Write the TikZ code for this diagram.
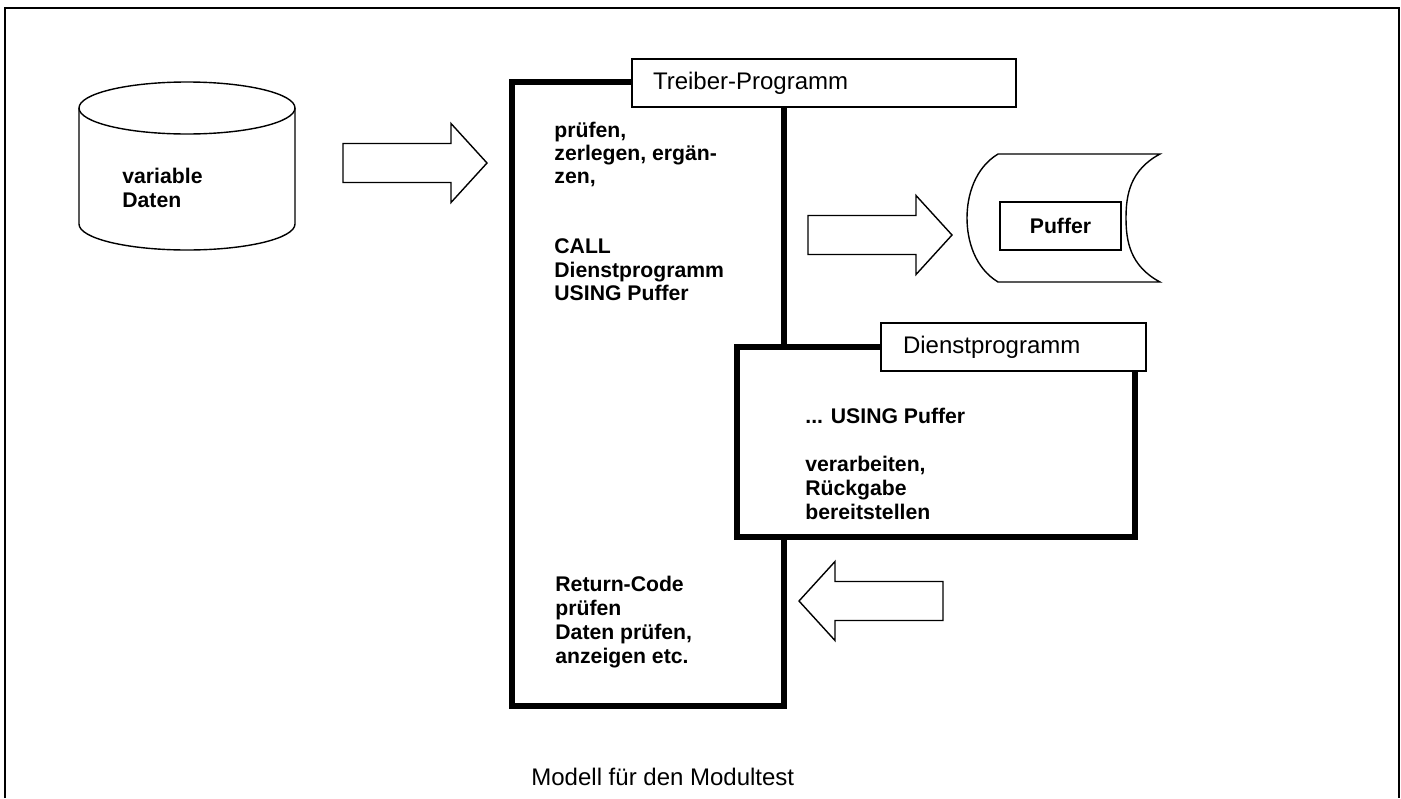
\documentclass[tikz,border=0pt]{standalone}
\usepackage{fontspec}
\setmainfont{Liberation Sans}
\begin{document}
\begin{tikzpicture}[x=0.5pt,y=-0.5pt]
\tikzstyle{outline}=[line width=0.7pt, line join=miter]
\tikzstyle{heavy}=[line width=2.6pt]
\tikzstyle{titlebox}=[draw, fill=white, line width=1pt, anchor=north west,
                      minimum height=24pt, inner xsep=10.5pt, inner ysep=0pt,
                      align=left, font=\fontsize{12}{14}\selectfont]
\tikzstyle{txt}=[anchor=north west, inner sep=0pt, align=left,
                 font=\fontsize{10.6}{12}\selectfont\bfseries]
\useasboundingbox (0,0) rectangle (1401,798);
\draw[line width=1pt] (5,798) -- (5,8) -- (1399,8) -- (1399,798);
\draw[outline] (79,108) -- (79,224) arc[start angle=180, end angle=0, x radius=108, y radius=26] -- (295,108);
\draw[outline] (187,108) ellipse[x radius=108, y radius=26];
\node[txt] (daten) at (122,167.5) {variable\\Daten};
\draw[heavy] (512,82) rectangle (784,706);
\node[titlebox, text width=171pt] (treibertitel) at (631,58) {Treiber-Programm};
\node[txt, font=\fontsize{10.6}{11.65}\selectfont\bfseries] (treibertext) at (554,121.5)
  {prüfen,\\zerlegen, ergän-\\zen,\\[23.3pt]CALL\\Dienstprogramm\\USING Puffer};
\draw[outline] (998,154) -- (1160,154) .. controls (1130,170) and (1126,195) .. (1126,218)
  .. controls (1126,241) and (1130,266) .. (1160,282) -- (998,282)
  .. controls (975,268) and (967,241) .. (967,218) .. controls (967,195) and (975,168) .. (998,154) -- cycle;
\node[draw, outline, minimum width=60.5pt, minimum height=24pt,
      font=\fontsize{10.6}{12}\selectfont\bfseries] (puffer) at (1060.5,226) {Puffer};
\draw[heavy, fill=white] (737,347) rectangle (1135,537);
\node[titlebox, text width=110.5pt, inner xsep=11pt] (diensttitel) at (880,322) {Dienstprogramm};
\node[txt] (diensttext) at (805,407.5) {... USING Puffer\\[12pt]verarbeiten,\\Rückgabe\\bereitstellen};
\node[txt] (rueckgabe) at (555,575.5) {Return-Code\\prüfen\\Daten prüfen,\\anzeigen etc.};
\foreach \ax/\ay/\dir in {343/163/1, 808/235/1, 943/601/-1}
  {\draw[outline, shift={(\ax,\ay)}, xscale=\dir] (0,-19.5) -- (108,-19.5) -- (108,-39.5) -- (144,0)
     -- (108,39.5) -- (108,19.5) -- (0,19.5) -- cycle;}
\node[anchor=base west, inner sep=0pt, font=\fontsize{12}{14}\selectfont] (modell) at (531,785) {Modell für den Modultest};
\end{tikzpicture}
\end{document}
